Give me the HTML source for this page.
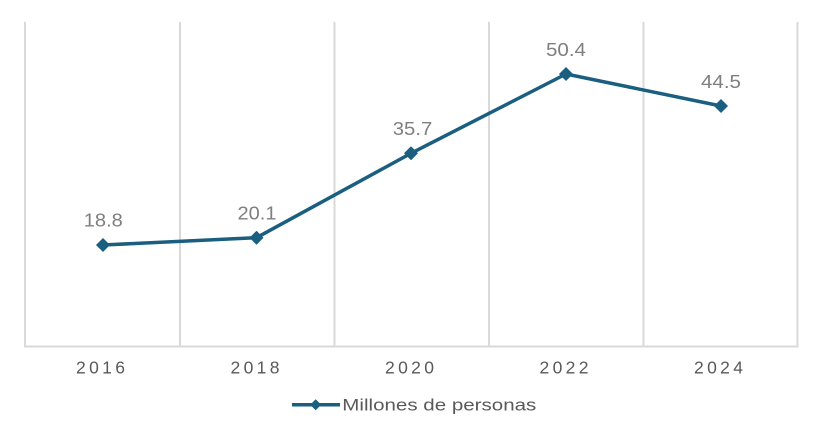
<!DOCTYPE html>
<html>
<head>
<meta charset="utf-8">
<style>
  html, body { margin: 0; padding: 0; background: #ffffff; }
  svg { display: block; }
  text { font-family: "Liberation Sans", Arial, sans-serif; }
</style>
</head>
<body>
<svg width="824" height="434" viewBox="0 0 824 434" xmlns="http://www.w3.org/2000/svg">
  <rect width="824" height="434" fill="#ffffff"/>
  <g stroke="#d9d9d9" stroke-width="2">
    <line x1="25" y1="22" x2="25" y2="347"/>
    <line x1="180" y1="22" x2="180" y2="347"/>
    <line x1="334.5" y1="22" x2="334.5" y2="347"/>
    <line x1="489" y1="22" x2="489" y2="347"/>
    <line x1="643.5" y1="22" x2="643.5" y2="347"/>
    <line x1="797.5" y1="22" x2="797.5" y2="347"/>
    <line x1="24" y1="346.5" x2="798.5" y2="346.5"/>
  </g>

  <polyline points="103,245 256.5,237.7 411,153.3 566,74 721,106"
            fill="none" stroke="#1a5e80" stroke-width="3.5" stroke-linejoin="round"/>
  <g fill="#1a5e80">
    <polygon points="103,238 110,245 103,252 96,245"/>
    <polygon points="256.5,230.7 263.5,237.7 256.5,244.7 249.5,237.7"/>
    <polygon points="411,146.3 418,153.3 411,160.3 404,153.3"/>
    <polygon points="566,67 573,74 566,81 559,74"/>
    <polygon points="721,99 728,106 721,113 714,106"/>
  </g>

  <g fill="#7f7f7f" font-size="18" text-anchor="middle">
    <text x="103.3" y="226.7" textLength="39" lengthAdjust="spacingAndGlyphs">18.8</text>
    <text x="257" y="219.3" textLength="39" lengthAdjust="spacingAndGlyphs">20.1</text>
    <text x="412.5" y="135" textLength="39.5" lengthAdjust="spacingAndGlyphs">35.7</text>
    <text x="566" y="56" textLength="40" lengthAdjust="spacingAndGlyphs">50.4</text>
    <text x="721" y="88" textLength="40" lengthAdjust="spacingAndGlyphs">44.5</text>
  </g>

  <g fill="#595959" font-size="17.5" text-anchor="middle">
    <text x="100.5" y="373.3" textLength="49" lengthAdjust="spacing">2016</text>
    <text x="255" y="373.3" textLength="49" lengthAdjust="spacing">2018</text>
    <text x="409.5" y="373.3" textLength="49" lengthAdjust="spacing">2020</text>
    <text x="564" y="373.3" textLength="49" lengthAdjust="spacing">2022</text>
    <text x="718.5" y="373.3" textLength="49" lengthAdjust="spacing">2024</text>
  </g>

  <line x1="292" y1="404.7" x2="340" y2="404.7" stroke="#1a5e80" stroke-width="3.5"/>
  <polygon points="315.7,399.2 321.2,404.7 315.7,410.2 310.2,404.7" fill="#1a5e80"/>
  <text x="342.3" y="410.5" font-size="16.5" fill="#595959" textLength="194" lengthAdjust="spacingAndGlyphs">Millones de personas</text>
</svg>
</body>
</html>
